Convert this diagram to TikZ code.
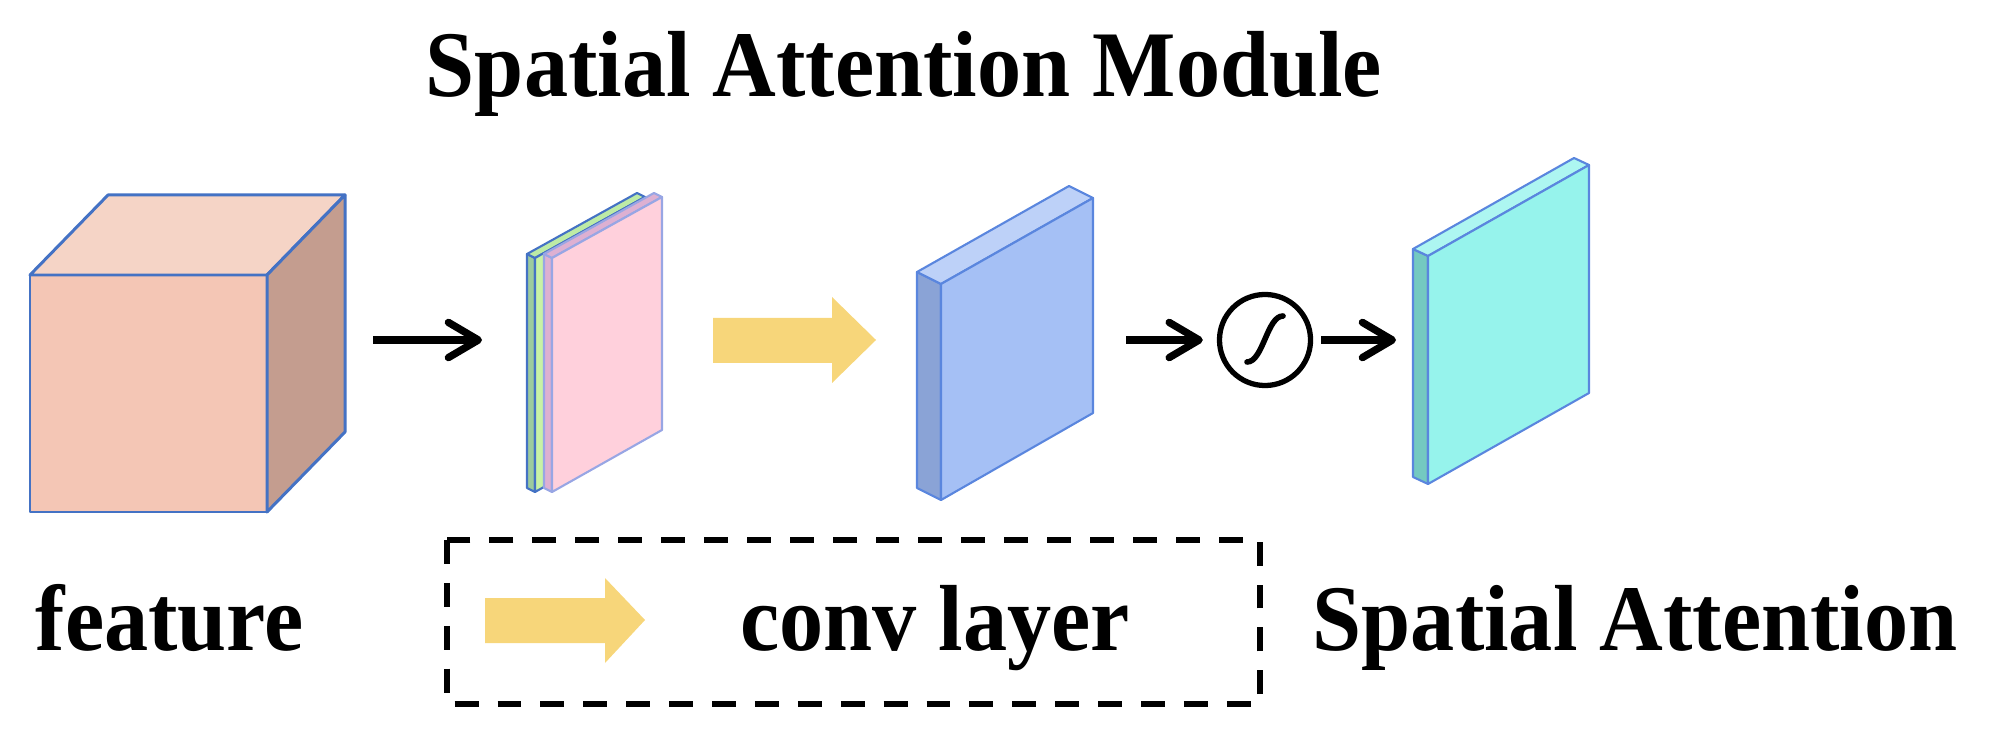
\documentclass[tikz,border=0pt]{standalone}
\usepackage{fontspec}
\usepackage{graphicx}
\setmainfont{Liberation Serif}
\usetikzlibrary{arrows.meta,calc}

\definecolor{edgeblue}{HTML}{4472C4}
\definecolor{cubefront}{HTML}{F4C6B5}
\definecolor{cubetop}{HTML}{F5D4C6}
\definecolor{cubeside}{HTML}{C49D8F}
\definecolor{greenface}{HTML}{C8F2A6}
\definecolor{greenside}{HTML}{9CCB9E}
\definecolor{greentop}{HTML}{BDEBA6}
\definecolor{pinkface}{HTML}{FFD0DC}
\definecolor{pinkside}{HTML}{DDB0D2}
\definecolor{pinkline}{HTML}{98A6E4}
\definecolor{blueface}{HTML}{A5C0F5}
\definecolor{blueside}{HTML}{8AA3D6}
\definecolor{bluetop}{HTML}{BDD1F8}
\definecolor{blueline}{HTML}{5A86DE}
\definecolor{cyanface}{HTML}{96F3EC}
\definecolor{cyanside}{HTML}{74C9C1}
\definecolor{cyantop}{HTML}{ADF6F1}
\definecolor{convyellow}{HTML}{F7D67A}

\tikzset{
  cubeedge/.style={draw=edgeblue, line width=0.85pt, line join=round},
  slab/.style 2 args={draw=#1, fill=#2, line width=0.6pt, line join=round},
}

\begin{document}
\begin{tikzpicture}[x=0.01cm, y=-0.01cm,
    lbl/.style={inner sep=0pt, font=\fontsize{26.7pt}{30pt}\selectfont\bfseries},
    arr/.style={line width=2.1pt, -{Straight Barb[length=8.5pt,width=10pt,round]}},
    sigm/.style={circle, draw, line width=1.5pt, minimum size=0.91cm, inner sep=0pt},
    legendbox/.style={draw, line width=1.8pt, dash pattern=on 6.8pt off 5.4pt}]
  \useasboundingbox (0,0) rectangle (1989,734);

  % feature cube
  \filldraw[cubeedge, fill=cubefront] (30,275) rectangle (267,512);
  \filldraw[cubeedge, fill=cubetop] (30,275) -- (108,195) -- (345,195) -- (267,275) -- cycle;
  \filldraw[cubeedge, fill=cubeside] (267,275) -- (345,195) -- (345,432) -- (267,512) -- cycle;

  % pooled maps (green behind pink)
  \begin{scope}[shift={(535,258)}]
    \filldraw[slab={edgeblue}{greenside}] (0,0) -- (-8,-4) -- (-8,230) -- (0,234) -- cycle;
    \filldraw[slab={edgeblue}{greentop}] (0,0) -- (-8,-4) -- (102,-65) -- (110,-61) -- cycle;
    \filldraw[slab={edgeblue}{greenface}] (0,0) -- (110,-61) -- (110,172) -- (0,234) -- cycle;
  \end{scope}
  \begin{scope}[shift={(552,258)}]
    \filldraw[slab={pinkline}{pinkside}] (0,0) -- (-8,-4) -- (-8,230) -- (0,234) -- cycle;
    \filldraw[slab={pinkline}{pinkside}] (0,0) -- (-8,-4) -- (102,-65) -- (110,-61) -- cycle;
    \filldraw[slab={pinkline}{pinkface}] (0,0) -- (110,-61) -- (110,172) -- (0,234) -- cycle;
  \end{scope}

  % conv output
  \begin{scope}[shift={(941,284)}]
    \filldraw[slab={blueline}{blueside}] (0,0) -- (-24,-12) -- (-24,204) -- (0,216) -- cycle;
    \filldraw[slab={blueline}{bluetop}] (0,0) -- (-24,-12) -- (128,-98) -- (152,-86) -- cycle;
    \filldraw[slab={blueline}{blueface}] (0,0) -- (152,-86) -- (152,129) -- (0,216) -- cycle;
  \end{scope}

  % attention map
  \begin{scope}[shift={(1428,256)}]
    \filldraw[slab={blueline}{cyanside}] (0,0) -- (-15,-7) -- (-15,221) -- (0,228) -- cycle;
    \filldraw[slab={blueline}{cyantop}] (0,0) -- (-15,-7) -- (146,-98) -- (161,-91) -- cycle;
    \filldraw[slab={blueline}{cyanface}] (0,0) -- (161,-91) -- (161,137) -- (0,228) -- cycle;
  \end{scope}

  % conv arrows
  \fill[convyellow] (713,318) -- (832,318) -- (832,297) -- (876,340) -- (832,383) -- (832,363) -- (713,363) -- cycle;
  \fill[convyellow] (485,598) -- (605,598) -- (605,578) -- (645,620) -- (605,663) -- (605,643) -- (485,643) -- cycle;

  \coordinate (cube out) at (373,340);
  \coordinate (maps in) at (482,340);
  \coordinate (conv out) at (1126,340);
  \coordinate (att in) at (1396,340);

  \node[sigm] (sig) at (1265,340) {};
  \draw[line width=1.6pt, line cap=round] ($(sig)+(-18,22)$) .. controls ($(sig)+(-2,22)$) and ($(sig)+(2,-24)$) .. ($(sig)+(18,-24)$);

  \draw[arr] (cube out) -- (maps in);
  \draw[arr, shorten >=4pt] (conv out) -- (sig.west);
  \draw[arr, shorten <=2.3pt] (sig.east) -- (att in);

  % legend
  \draw[legendbox] (447,540) rectangle (1260,704);

  \node[lbl, anchor=base] (title) at (904,97) {\scalebox{0.94}[1]{Spatial Attention Module}};
  \node[lbl, anchor=base west] (feat) at (35,650) {\scalebox{0.94}[1]{feature}};
  \node[lbl, anchor=base] (conv) at (935,650) {\scalebox{0.94}[1]{conv layer}};
  \node[lbl, anchor=base west] (att) at (1312,650) {\scalebox{0.94}[1]{Spatial Attention}};
\end{tikzpicture}
\end{document}
